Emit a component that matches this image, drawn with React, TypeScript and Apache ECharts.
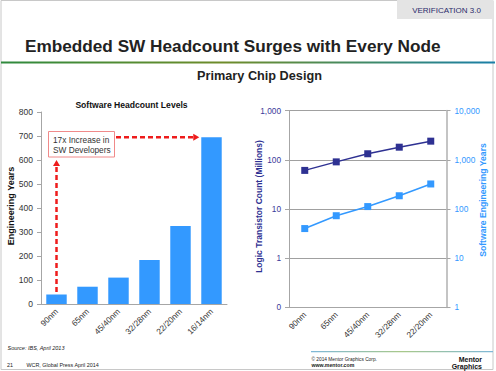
import React, { useEffect, useRef } from "react";
import * as echarts from "echarts";

// ---- data ----
const barNodes = ["90nm", "65nm", "45/40nm", "32/28nm", "22/20nm", "16/14nm"];
const headcount = [40, 72, 110, 183, 325, 695];
const lineNodes = ["90nm", "65nm", "45/40nm", "32/28nm", "22/20nm"];
const transistorCount = [61, 91, 133, 181, 240];
const swEngYears = [40, 73, 112, 186, 323];
const barYTicks = { min: 0, max: 800, interval: 100 };
const leftLogRange = { min: 0.1, max: 1000 };
const rightLogRange = { min: 1, max: 10000 };

const NAVY = "#2e3192";
const NAVY_TXT = "#3a3a9a";
const BLUE = "#3399ff";
const FONT = "Liberation Sans";
const AX = "#a6a6a6";

const fmtLog = (v: number) => {
  if (v < 0.5) return "0";
  return String(Math.round(v)).replace(/\B(?=(\d{3})+(?!\d))/g, ",");
};

export default function App() {
  const ref = useRef<HTMLDivElement>(null);
  useEffect(() => {
    if (!ref.current) return;
    const chart = echarts.init(ref.current, undefined, { renderer: "svg" });
    const xLabel = { rotate: 45, fontSize: 8.3, color: "#333", margin: 6, fontFamily: FONT };
    const option: any = {
      animation: false,
      textStyle: { fontFamily: FONT },
      grid: [
        { left: 41, top: 112, width: 186, height: 192 },
        { left: 289, top: 110.7, width: 157.5, height: 196.6 },
      ],
      xAxis: [
        {
          type: "category",
          gridIndex: 0,
          data: barNodes,
          axisLine: { lineStyle: { color: AX } },
          axisTick: { length: 4, lineStyle: { color: AX } },
          axisLabel: xLabel,
        },
        {
          type: "category",
          gridIndex: 1,
          data: lineNodes,
          axisLine: { onZero: false, lineStyle: { color: AX } },
          axisTick: { length: 4, lineStyle: { color: AX } },
          axisLabel: xLabel,
        },
      ],
      yAxis: [
        {
          type: "value",
          gridIndex: 0,
          min: barYTicks.min,
          max: barYTicks.max,
          interval: barYTicks.interval,
          axisLine: { show: true, lineStyle: { color: AX } },
          axisTick: { show: true, length: 4, lineStyle: { color: AX } },
          splitLine: { show: false },
          axisLabel: { fontSize: 8.5, color: "#333", margin: 8, fontFamily: FONT },
        },
        {
          type: "log",
          gridIndex: 1,
          logBase: 10,
          min: leftLogRange.min,
          max: leftLogRange.max,
          axisLine: { show: true, lineStyle: { color: AX } },
          axisTick: { show: true, length: 4, lineStyle: { color: AX } },
          splitLine: { show: true, lineStyle: { color: "#a0a0a0", width: 1 } },
          minorTick: { show: false },
          axisLabel: { fontSize: 8.3, color: NAVY_TXT, margin: 8, formatter: fmtLog, fontFamily: FONT },
        },
        {
          type: "log",
          gridIndex: 1,
          position: "right",
          logBase: 10,
          min: rightLogRange.min,
          max: rightLogRange.max,
          axisLine: { show: true, lineStyle: { color: "#c4c4c4", width: 2 } },
          axisTick: { show: true, length: 4, lineStyle: { color: AX } },
          splitLine: { show: false },
          axisLabel: { fontSize: 8.3, color: BLUE, margin: 8, formatter: fmtLog, fontFamily: FONT },
        },
      ],
      series: [
        {
          type: "bar",
          xAxisIndex: 0,
          yAxisIndex: 0,
          data: headcount,
          barWidth: "66%",
          itemStyle: { color: BLUE },
        },
        {
          type: "line",
          xAxisIndex: 1,
          yAxisIndex: 1,
          data: transistorCount,
          symbol: "rect",
          symbolSize: 7,
          lineStyle: { color: NAVY, width: 1.5 },
          itemStyle: { color: NAVY },
        },
        {
          type: "line",
          xAxisIndex: 1,
          yAxisIndex: 2,
          data: swEngYears,
          symbol: "rect",
          symbolSize: 7,
          lineStyle: { color: BLUE, width: 1.5 },
          itemStyle: { color: BLUE },
        },
      ],
    };
    chart.setOption(option);

    // annotation positions from the bar chart's scales
    const pv = chart.convertToPixel({ gridIndex: 0 }, [barNodes[0], 50]) as number[];
    const pvTop = chart.convertToPixel({ gridIndex: 0 }, [barNodes[0], 600]) as number[];
    const lastC = chart.convertToPixel({ gridIndex: 0 }, [barNodes[5], headcount[5]]) as number[];
    const catW = 186 / barNodes.length;
    const hY = lastC[1];
    const hEndX = lastC[0] - catW * 0.33 - 2;
    const RED = "#ee1c1c";
    const dash = [5, 3];

    const gradLine = new echarts.graphic.LinearGradient(0, 0, 1, 0, [
      { offset: 0, color: "#2f8a3e" },
      { offset: 0.45, color: "#6f8c2a" },
      { offset: 0.75, color: "#3f8a6a" },
      { offset: 1, color: "#1a7fa8" },
    ]);
    const footLine = new echarts.graphic.LinearGradient(0, 0, 1, 0, [
      { offset: 0, color: "#7fb8d8" },
      { offset: 0.5, color: "#a8c88a" },
      { offset: 1, color: "#7fb8d8" },
    ]);
    const txt = (x: number, y: number, text: string, s: any, extra: any = {}) => ({
      type: "text",
      x,
      y,
      ...extra,
      style: { text, fontFamily: FONT, align: "left", verticalAlign: "middle", fill: "#222", ...s },
    });

    const graphic: any[] = [
      // slide border
      { type: "rect", shape: { x: 1, y: 0.5, width: 492, height: 369 }, style: { fill: "none", stroke: "#c8c8c8", lineWidth: 1 }, silent: true },
      // header tab
      { type: "rect", shape: { x: 397, y: 0, width: 96, height: 19 }, style: { fill: "#e4e4e4" } },
      txt(446.5, 10, "VERIFICATION 3.0", { fill: "#2b2b6b", fontSize: 8, align: "center" }),
      // title
      txt(25, 46, "Embedded SW Headcount Surges with Every Node", { fontSize: 17.2, fontWeight: "bold" }),
      { type: "rect", shape: { x: 1, y: 61.5, width: 494, height: 2 }, style: { fill: gradLine } },
      txt(259.5, 76, "Primary Chip Design", { fontSize: 12.7, fontWeight: "bold", align: "center" }),
      // bar chart title
      txt(131.5, 105, "Software Headcount Levels", { fill: "#111", fontSize: 8.6, fontWeight: "bold", align: "center" }),
      // axis names
      txt(11, 206, "Engineering Years", { fill: "#111", fontSize: 9, fontWeight: "bold", align: "center" }, { rotation: Math.PI / 2 }),
      txt(258.5, 206.5, "Logic Transistor Count (Millions)", { fill: NAVY, fontSize: 8.5, fontWeight: "bold", align: "center" }, { rotation: Math.PI / 2 }),
      txt(483, 200, "Software Engineering Years", { fill: BLUE, fontSize: 8.6, fontWeight: "bold", align: "center" }, { rotation: Math.PI / 2 }),
      // annotation arrows
      { type: "line", shape: { x1: pv[0], y1: pv[1], x2: pv[0], y2: pvTop[1] + 6 }, style: { stroke: RED, lineWidth: 2.5, lineDash: dash } },
      { type: "polygon", shape: { points: [[pv[0] - 3.5, pvTop[1] + 6], [pv[0] + 3.5, pvTop[1] + 6], [pv[0], pvTop[1]]] }, style: { fill: RED } },
      { type: "line", shape: { x1: 116, y1: hY, x2: hEndX - 6, y2: hY }, style: { stroke: RED, lineWidth: 2.5, lineDash: dash } },
      { type: "polygon", shape: { points: [[hEndX - 6, hY - 3.5], [hEndX - 6, hY + 3.5], [hEndX, hY]] }, style: { fill: RED } },
      // annotation box
      { type: "rect", shape: { x: 48.5, y: 131.5, width: 66, height: 25.5 }, style: { fill: "#fff", stroke: "#f08a8a", lineWidth: 1 } },
      txt(53, 144.5, "17x Increase in\nSW Developers", { fill: "#333", fontSize: 8.3, lineHeight: 10 }),
      // footer
      txt(7.5, 348, "Source: IBS, April 2013", { fontSize: 5.5, fontStyle: "italic" }),
      txt(7, 365, "21", { fontSize: 5.4 }),
      txt(26.5, 365, "WCR, Global Press April 2014", { fontSize: 5.4 }),
      { type: "rect", shape: { x: 311, y: 351, width: 182, height: 1.2 }, style: { fill: footLine } },
      txt(311.5, 359, "\u00a9 2014 Mentor Graphics Corp.", { fontSize: 4.8 }),
      txt(311.5, 365, "www.mentor.com", { fontSize: 5.2, fontWeight: "bold" }),
      txt(482, 363, "Mentor\nGraphics", { fill: "#111", fontSize: 7, fontWeight: "bold", align: "right", lineHeight: 7.6 }),
    ];
    chart.setOption({ graphic });

    return () => chart.dispose();
  }, []);
  return (
    <div
      ref={ref}
      style={{ position: "absolute", left: 0, top: 0, width: 496, height: 371, background: "#fff" }}
    />
  );
}
